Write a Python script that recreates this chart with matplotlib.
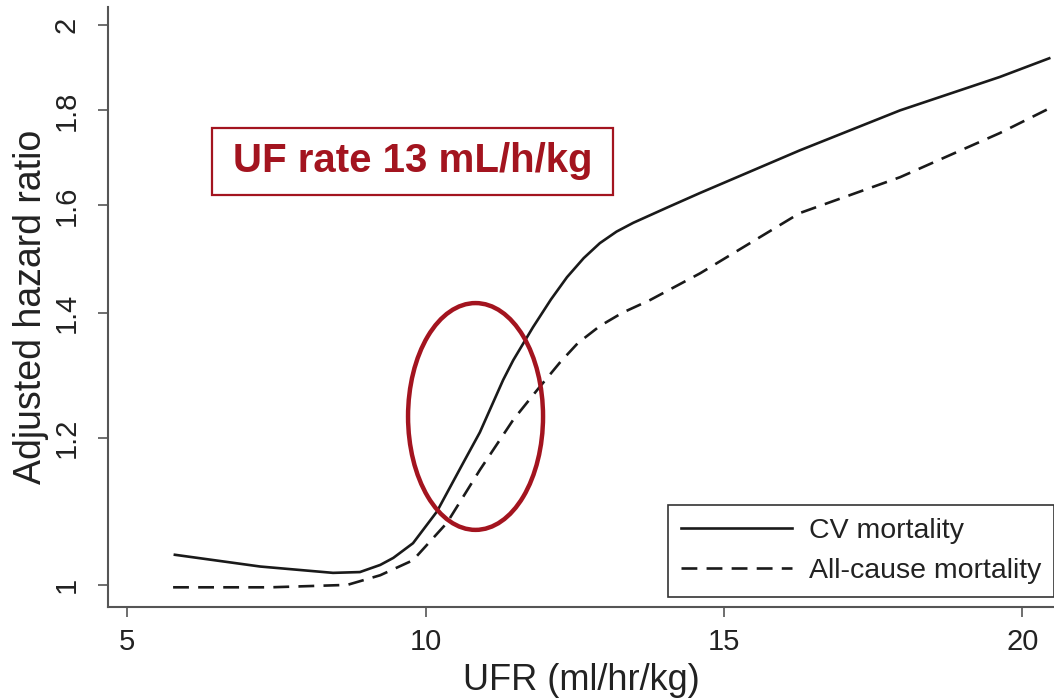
import matplotlib
matplotlib.use("Agg")
import matplotlib.pyplot as plt
from matplotlib.patches import Ellipse, Rectangle

plt.rcParams['font.family'] = ['Liberation Sans', 'DejaVu Sans']

# CV mortality (solid)
cv_x = [5.80, 7.23, 8.45, 8.90, 9.24, 9.46, 9.79, 10.19, 10.63, 10.91, 11.30,
        11.47, 11.80, 12.10, 12.37, 12.65, 12.92, 13.20, 13.48, 14.05, 14.60,
        16.27, 17.95, 19.62, 20.45]
cv_y = [1.038, 1.023, 1.015, 1.016, 1.025, 1.034, 1.053, 1.095, 1.163, 1.208, 1.289,
        1.321, 1.376, 1.424, 1.464, 1.499, 1.527, 1.549, 1.566, 1.596, 1.625,
        1.713, 1.800, 1.876, 1.920]

# All-cause mortality (dashed)
ac_x = [5.77, 7.40, 8.69, 9.24, 9.79, 10.36, 10.91, 11.47, 11.87, 12.25,
        12.55, 12.92, 13.30, 13.76, 14.60, 16.27, 17.95, 19.62, 20.46]
ac_y = [0.997, 0.997, 1.000, 1.012, 1.031, 1.080, 1.153, 1.227, 1.273, 1.317,
        1.349, 1.378, 1.401, 1.423, 1.471, 1.585, 1.657, 1.750, 1.805]

yticks = [1, 1.2, 1.4, 1.6, 1.8, 2]
ytick_labels = ["1", "1.2", "1.4", "1.6", "1.8", "2"]
xticks = [5, 10, 15, 20]

red = "#a3141f"
gray = "#555555"

fig = plt.figure(figsize=(10.54, 6.98), dpi=100)
ax = fig.add_axes([0.1025, 0.1304, 0.8975, 0.8596])

ax.plot(cv_x, cv_y, color="#1a1a1a", lw=1.9, label="CV mortality")
ax.plot(ac_x, ac_y, color="#1a1a1a", lw=1.9, dashes=(6, 3.5),
        label="All-cause mortality")

ax.set_yscale("log")
ax.set_xlim(4.68, 20.53)
ax.set_ylim(0.973, 2.046)
ax.set_xticks(xticks)
ax.set_xticklabels([str(t) for t in xticks])
ax.set_yticks(yticks)
ax.set_yticklabels(ytick_labels, rotation=90, va="center")
ax.yaxis.set_minor_locator(matplotlib.ticker.NullLocator())

for s in ["top", "right"]:
    ax.spines[s].set_visible(False)
for s in ["left", "bottom"]:
    ax.spines[s].set_color(gray)
    ax.spines[s].set_linewidth(1.5)

ax.tick_params(axis="both", direction="out", length=7, width=1.2,
               color=gray, labelsize=21, labelcolor="#222222")
ax.tick_params(axis="x", pad=8)
ax.tick_params(axis="y", pad=13)

ax.set_xlabel("UFR (ml/hr/kg)", fontsize=26, color="#222222", labelpad=5)
ax.set_ylabel("Adjusted hazard ratio", fontsize=27, color="#222222", labelpad=2)

# annotation box
ax.add_patch(Rectangle((0.110, 0.687), 0.424, 0.111, transform=ax.transAxes,
                       fill=False, edgecolor=red, lw=1.6, zorder=3))
ax.text(0.322, 0.7425, "UF rate 13 mL/h/kg", transform=ax.transAxes,
        ha="center", va="center", fontsize=29, fontweight="bold", color=red)

# highlight ellipse
ax.add_patch(Ellipse((0.3885, 0.3175), 0.1427, 0.378, transform=ax.transAxes,
                     fill=False, edgecolor=red, lw=3.2, zorder=4))

leg = ax.legend(loc="lower right", bbox_to_anchor=(1.0, 0.0167),
                borderaxespad=0, fontsize=20.5, handlelength=3.9,
                handletextpad=0.6, labelspacing=0.5, borderpad=0.45,
                fancybox=False, framealpha=1)
leg.get_frame().set_edgecolor("#333333")
leg.get_frame().set_linewidth(1.2)
for t in leg.get_texts():
    t.set_color("#222222")

fig.savefig("out.png", dpi=100)
